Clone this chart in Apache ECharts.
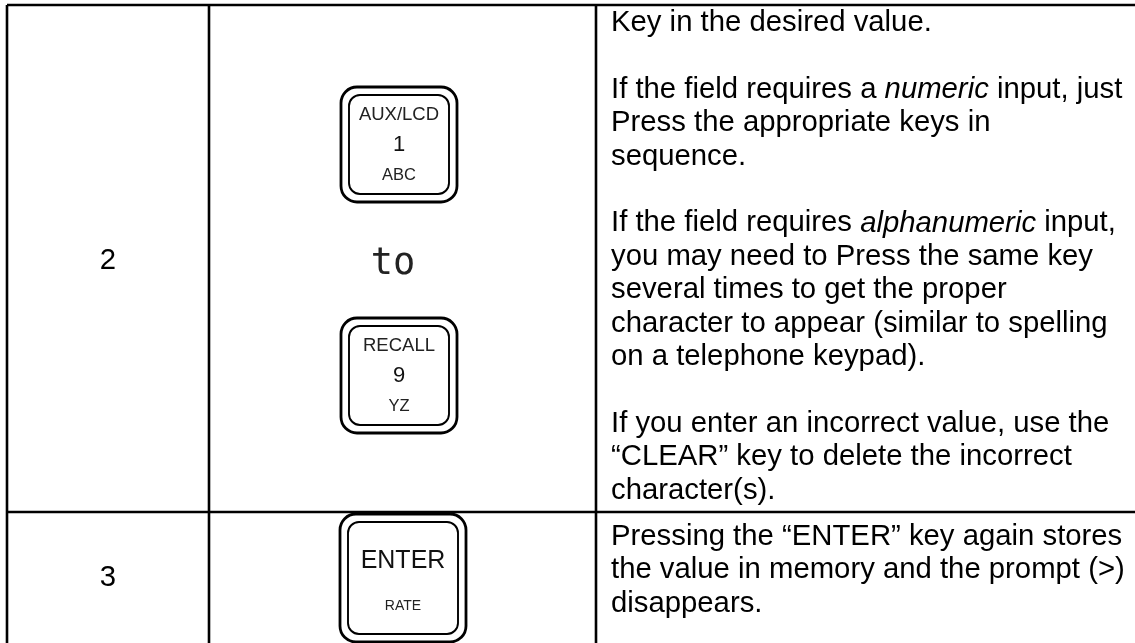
<!DOCTYPE html>
<html>
<head>
<meta charset="utf-8">
<script src="https://cdn.jsdelivr.net/npm/echarts@6/dist/echarts.min.js"></script>
<style>html,body{margin:0;padding:0;background:#fff}#c{width:1135px;height:643px}</style>
</head>
<body>
<div id="c"></div>
<script>
// ---- data ----
const steps = ['2', '3'];
const keyTop = ['AUX/LCD', 'RECALL', 'ENTER'];
const keyMid = ['1', '9', ''];
const keyBottom = ['ABC', 'YZ', 'RATE'];
const connector = 'to';
const row2Lines = [
  'Key in the desired value.',
  '',
  'If the field requires a {i|numeric} input, just',
  'Press the appropriate keys in',
  'sequence.',
  '',
  'If the field requires {i|alphanumeric} input,',
  'you may need to Press the same key',
  'several times to get the proper',
  'character to appear (similar to spelling',
  'on a telephone keypad).',
  '',
  'If you enter an incorrect value, use the',
  '\u201CCLEAR\u201D key to delete the incorrect',
  'character(s).'
];
const row3Lines = [
  'Pressing the \u201CENTER\u201D key again stores',
  'the value in memory and the prompt (>)',
  'disappears.'
];

// ---- layout ----
const W = 1135, H = 643;
const X0 = 7, X1 = 209, X2 = 596, XR = 1140;
const Y0 = 5, Y1 = 512, YB = 650;
const FONT = '"Liberation Sans", Arial, sans-serif';
const BODY = 29.3;
const LH = 33.4;

const els = [];
function line(x1, y1, x2, y2) {
  els.push({ type: 'line', shape: { x1, y1, x2, y2 }, style: { stroke: '#000', lineWidth: 2.6 }, silent: true });
}
line(X0, Y0, XR, Y0);
line(X0, Y1, XR, Y1);
line(X0, Y0, X0, YB);
line(X1, Y0, X1, YB);
line(X2, Y0, X2, YB);

function text(str, x, y, size, opts) {
  els.push({
    type: 'text', x, y, silent: true,
    style: Object.assign({
      text: str, fill: '#000', font: size + 'px ' + FONT,
      textAlign: 'center', textVerticalAlign: 'middle'
    }, opts || {})
  });
}

// step numbers
text(steps[0], 108, 261, BODY);
text(steps[1], 108, 578, BODY);

// keys
function key(x, y, w, h, idx, big) {
  els.push({ type: 'rect', shape: { x, y, width: w, height: h, r: 16 }, style: { fill: '#fff', stroke: '#000', lineWidth: 2.8 }, silent: true });
  els.push({ type: 'rect', shape: { x: x + 8, y: y + 8, width: w - 16, height: h - 16, r: 11 }, style: { fill: 'none', stroke: '#000', lineWidth: 1.9 }, silent: true });
  const cx = x + w / 2;
  if (big) {
    text(keyTop[idx], cx, y + 47, 25, { fill: '#111' });
    text(keyBottom[idx], cx, y + 92, 14, { fill: '#222' });
  } else {
    text(keyTop[idx], cx, y + 28, 18.5, { fill: '#222' });
    text(keyMid[idx], cx, y + 58, 22, { fill: '#111' });
    text(keyBottom[idx], cx, y + 88, 16.5, { fill: '#222' });
  }
}
key(341, 87, 116, 115, 0, false);
text(connector, 393, 264, 37, { font: '37px "DejaVu Sans Mono", monospace', fill: '#222' });
key(341, 318, 116, 115, 1, false);
key(340, 514, 126, 128, 2, true);

// description text
const rich = { i: { fontStyle: 'italic', fontSize: BODY, fontFamily: FONT, fill: '#000' } };
function para(lines, x, y0) {
  lines.forEach((s, k) => {
    if (!s) return;
    els.push({
      type: 'text', x, y: y0 + k * LH, silent: true,
      style: { text: s, fill: '#000', font: BODY + 'px ' + FONT, fontSize: BODY, fontFamily: FONT, textAlign: 'left', textVerticalAlign: 'middle', rich }
    });
  });
}
para(row2Lines, 611, 23);
para(row3Lines, 611, 537);

const chart = echarts.init(document.getElementById('c'), null, { renderer: 'canvas', width: W, height: H });
chart.setOption({ backgroundColor: '#fff', animation: false, graphic: { elements: els } });
</script>
</body>
</html>
